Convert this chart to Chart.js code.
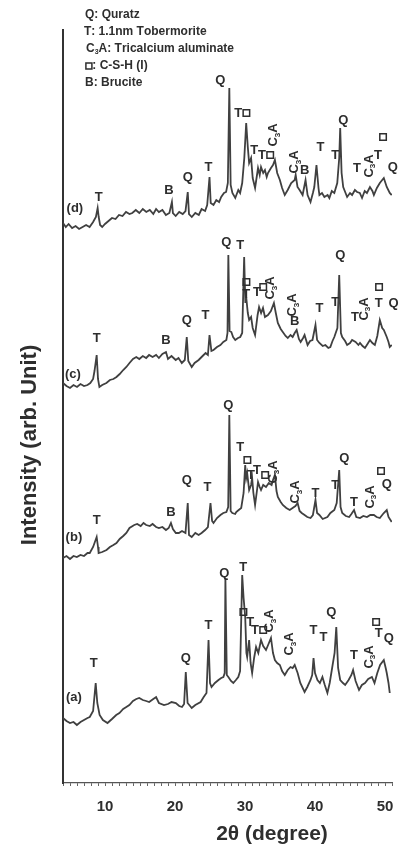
<!DOCTYPE html>
<html lang="en">
<head>
  <meta charset="UTF-8">
  <title>XRD patterns (a)-(d)</title>
  <script src="https://cdn.jsdelivr.net/npm/chart.js"></script>
  <style>
    body { margin: 0; background: #fff; }
    canvas { display: block; }
  </style>
</head>
<body>
  <canvas id="chart" width="404" height="865"></canvas>

  <script>
    // 2θ (degree) and intensity (arb. unit, traces already offset)
    const thetaD = [4.00,4.4,4.8,5.3,5.8,6.3,6.8,7.3,7.8,8.3,8.7,8.95,9.1,9.3,9.6,10.0,10.5,11.0,11.5,12.0,12.5,13.0,13.5,13.9,14.4,14.9,15.4,15.9,16.4,16.9,17.3,17.7,18.2,18.7,19.2,19.56,19.7,20.1,20.6,21.1,21.5,21.82,22.0,22.4,22.9,23.4,23.8,24.3,24.6,24.93,25.1,25.5,25.9,26.3,26.6,27.0,27.3,27.55,27.76,27.95,28.2,28.61,29.04,29.3,29.6,29.9,30.17,30.4,30.59,30.87,31.1,31.44,31.86,32.1,32.29,32.6,32.85,33.1,33.28,33.71,34.0,34.27,34.6,34.98,35.3,35.68,36.1,36.6,37.1,37.24,37.5,37.8,38.23,38.65,38.94,39.36,39.7,39.9,40.21,40.5,40.63,41.0,41.34,41.8,42.05,42.4,42.76,43.18,43.46,43.6,43.8,44.03,44.59,45.0,45.3,45.7,46.01,46.4,46.72,47.1,47.42,47.85,48.2,48.41,48.84,49.26,49.6,49.83,50.25,50.68,50.96];
    const intensityD = [560,556,559,555,557,554,556,558,556,561,566,575,566,558,556,559,562,565,564,568,567,571,569,570,573,570,574,571,573,569,574,571,573,568,570,581,570,567,571,569,572,591,569,566,570,568,574,572,578,606,580,578,583,581,586,590,591,600,695,598,590,585,593,590,600,625,660,636,620,625,605,595,615,608,616,610,613,606,610,615,618,623,610,603,595,588,593,600,603,608,596,593,588,603,588,581,590,596,618,595,588,590,586,588,585,592,590,600,625,655,610,596,586,590,588,593,591,590,585,592,590,596,592,588,595,600,603,605,596,590,588];

    const thetaC = [4.00,4.5,5.0,5.5,6.0,6.5,7.0,7.5,7.9,8.3,8.5,8.81,9.0,9.2,9.6,10.2,10.7,11.2,11.64,12.1,12.6,13.05,13.5,14.0,14.47,14.9,15.4,15.88,16.3,16.8,17.3,17.7,18.2,18.71,19.0,19.5,20.1,20.5,20.97,21.4,21.68,21.9,22.39,22.8,23.38,23.8,24.37,24.7,24.93,25.2,25.5,26.0,26.49,26.9,27.34,27.5,27.62,27.8,28.05,28.3,28.61,29.0,29.32,29.6,29.88,30.05,30.17,30.4,30.59,30.87,31.1,31.44,31.8,32.01,32.3,32.57,32.85,33.28,33.7,34.13,34.4,34.69,35.1,35.40,35.8,36.11,36.5,36.81,37.1,37.38,37.7,37.95,38.3,38.51,38.94,39.3,39.64,40.07,40.3,40.63,41.1,41.48,41.9,42.19,42.5,42.76,43.2,43.46,43.7,43.89,44.3,44.59,45.0,45.3,45.8,46.2,46.43,46.8,47.14,47.5,47.85,48.2,48.55,48.9,49.26,49.6,49.83,50.25,50.5,50.68,50.96];
    const intensityC = [400,397,395,398,396,399,397,398,400,404,412,428,404,396,398,400,403,404,406,409,413,416,420,424,426,424,427,425,428,426,428,425,429,431,424,427,423,425,420,423,446,422,416,420,423,426,430,428,448,432,433,436,438,441,443,450,528,452,451,446,443,445,446,450,526,480,486,470,463,466,455,448,468,476,470,475,466,468,472,480,470,460,454,451,447,445,448,446,450,453,444,441,445,448,438,442,443,458,443,440,437,438,435,436,442,446,455,508,450,446,442,438,440,443,441,438,440,437,435,439,443,440,438,447,463,455,453,446,441,436,438];

    const thetaB = [4.00,4.5,5.0,5.5,5.98,6.5,7.0,7.5,7.82,8.3,8.81,9.0,9.09,9.6,10.22,10.7,11.2,11.64,12.1,12.6,13.05,13.5,14.18,14.6,15.1,15.5,15.88,16.4,16.8,17.30,17.7,18.2,18.71,19.1,19.42,19.7,20.12,20.55,21.0,21.5,21.82,22.0,22.39,22.9,23.38,23.8,24.3,24.7,25.07,25.3,25.5,26.0,26.49,26.9,27.34,27.6,27.76,27.95,28.19,28.6,28.75,29.1,29.46,29.8,30.03,30.17,30.31,30.59,30.87,31.02,31.2,31.44,31.7,31.86,32.1,32.29,32.6,33.00,33.4,33.8,34.0,34.27,34.5,34.69,35.1,35.40,35.9,36.39,36.8,37.2,37.52,37.8,38.1,38.51,38.9,39.36,39.7,40.07,40.3,40.63,41.1,41.77,42.2,42.76,43.1,43.46,43.65,43.89,44.4,44.88,45.2,45.58,45.9,46.43,46.9,47.42,47.9,48.41,48.8,49.26,49.6,49.83,50.25,50.5,50.96];
    const intensityB = [225,227,224,227,226,228,227,230,230,236,246,236,230,231,233,236,238,240,244,247,250,255,258,259,257,260,258,257,259,256,255,256,253,255,260,254,250,250,252,250,280,248,246,250,248,250,253,256,280,262,260,265,268,270,271,276,368,272,270,269,271,273,275,290,318,305,310,293,298,305,290,278,292,301,296,293,298,296,300,298,303,308,292,286,281,278,275,273,275,277,280,272,270,268,266,265,268,283,270,268,264,266,270,273,280,313,276,270,267,266,269,273,266,265,267,266,268,268,266,265,268,270,273,266,261];

    const thetaA = [4.00,4.5,5.0,5.5,5.98,6.5,7.0,7.5,7.82,8.3,8.67,8.9,9.23,9.7,10.36,11.0,11.6,12.06,12.6,13.05,13.48,14.0,14.47,14.89,15.4,15.88,16.31,16.9,17.30,17.7,18.43,19.0,19.5,20.12,20.6,21.0,21.3,21.54,21.8,22.39,22.9,23.66,24.1,24.5,24.79,25.0,25.22,25.7,26.21,26.6,26.91,27.1,27.20,27.4,27.62,28.0,28.33,28.7,29.04,29.3,29.60,29.8,30.03,30.2,30.31,30.59,30.8,31.02,31.3,31.58,31.9,32.29,32.6,33.00,33.3,33.71,34.0,34.27,34.6,34.98,35.3,35.68,36.1,36.5,36.81,37.1,37.52,37.9,38.51,38.9,39.36,39.6,39.79,40.0,40.35,40.7,41.06,41.4,41.77,42.1,42.47,42.8,43.04,43.3,43.60,44.0,44.31,44.8,45.2,45.44,45.8,46.29,46.7,47.14,47.6,48.13,48.5,48.9,49.3,49.83,50.1,50.25,50.5,50.68];
    const intensityA = [65,62,60,61,58,61,63,65,66,72,100,80,68,63,60,64,68,70,74,76,78,82,84,85,83,82,81,84,86,80,78,79,81,80,77,76,79,111,80,75,78,81,86,90,143,100,96,100,103,105,106,110,205,108,106,102,100,103,106,112,208,185,166,130,126,143,120,110,125,136,130,143,137,133,138,145,130,123,120,118,112,108,113,116,115,118,110,100,91,96,103,108,125,110,103,100,106,98,90,100,116,130,156,115,103,100,98,103,108,113,102,93,98,100,104,106,100,110,118,123,115,110,100,90];

    // sample tags and phase labels: [text, 2θ, intensity, rotated]
    const sampleTags = [["(d)",5.70,575],["(c)",5.41,409],["(b)",5.56,246],["(a)",5.56,86]];
    const peakLabels = [
      ["T",9.09,586],["B",19.13,593],["Q",21.82,606],["T",24.79,616],["Q",26.49,703],["T□",29.60,670],
      ["T",31.30,633],["T□",33.0,628],["C3A",34.13,648,true],["C3A",37.10,621,true],["B",38.51,613],
      ["T",40.78,636],["T",42.90,628],["Q",44.03,663],["T",46.01,615],["C3A",47.71,617,true],
      ["T",48.98,628],["□",49.69,646],["Q",51.1,616],

      ["T",8.81,445],["B",18.71,443],["Q",21.68,463],["T",24.37,468],["Q",27.34,541],["T",29.32,538],
      ["□",30.17,501],["T",30.17,489],["T",31.72,491],["□",32.57,496],["C3A",33.70,495,true],
      ["C3A",36.81,478,true],["B",37.10,462],["T",40.63,475],["T",42.90,481],["Q",43.60,528],
      ["T",45.72,466],["C3A",47.0,474,true],["□",49.12,496],["T",49.12,480],["Q",51.24,480],

      ["T",8.81,263],["B",19.42,271],["Q",21.68,303],["T",24.65,296],["Q",27.62,378],["T",29.32,336],
      ["□",30.31,323],["T",30.87,308],["T",31.72,313],["□",32.85,308],["C3A",33.99,311,true],
      ["C3A",37.24,291,true],["T",40.07,290],["T",42.90,298],["Q",44.17,325],["T",45.58,281],
      ["C3A",47.85,286,true],["□",49.40,312],["Q",50.25,299],

      ["T",8.38,120],["Q",21.54,125],["T",24.79,158],["Q",27.06,210],["T",29.74,216],["□",29.74,171],
      ["T",30.73,161],["T□",32.0,153],["C3A",33.56,162,true],["C3A",36.39,139,true],["T",39.79,153],
      ["T",41.2,146],["Q",42.33,171],["T",45.58,128],["C3A",47.71,126,true],["□",48.70,161],
      ["T",49.12,150],["Q",50.54,145]
    ];
    const legendLines = ["Q: Quratz", "T: 1.1nm Tobermorite", "C3A: Tricalcium aluminate", "□: C-S-H (I)", "B: Brucite"];

    const INK = "#2e2e2e";
    const FONT = '"Liberation Sans", Arial, sans-serif';

    function pairs(xs, ys) { return xs.map((v, i) => ({ x: v, y: ys[i] })); }

    // draws text with C3A subscript and □ as a small box, centred on (0,0)
    function drawRich(ctx, text, size) {
      const parts = [];
      for (let i = 0; i < text.length; i++) {
        const ch = text[i];
        if (ch === "□") parts.push({ box: true, w: size * 0.62 });
        else if (ch === "3" && text[i - 1] === "C") {
          ctx.font = "bold " + Math.round(size * 0.62) + "px " + FONT;
          parts.push({ ch, sub: true, w: ctx.measureText(ch).width });
        } else {
          ctx.font = "bold " + size + "px " + FONT;
          parts.push({ ch, w: ctx.measureText(ch).width });
        }
      }
      const total = parts.reduce((a, p) => a + p.w, 0);
      let cx = -total / 2;
      parts.forEach(p => {
        if (p.box) {
          const s = size * 0.5;
          ctx.lineWidth = 1.5;
          ctx.strokeRect(cx + 1, -s / 2, s, s);
        } else if (p.sub) {
          ctx.font = "bold " + Math.round(size * 0.62) + "px " + FONT;
          ctx.fillText(p.ch, cx, size * 0.28);
        } else {
          ctx.font = "bold " + size + "px " + FONT;
          ctx.fillText(p.ch, cx, 0);
        }
        cx += p.w;
      });
      return total;
    }

    const textPlugin = {
      id: "texts",
      afterDraw(chart) {
        const { ctx, scales: { x, y } } = chart;
        ctx.save();
        ctx.fillStyle = INK;
        ctx.strokeStyle = INK;
        ctx.textBaseline = "middle";
        ctx.textAlign = "left";

        peakLabels.forEach(([t, th, v, rot]) => {
          ctx.save();
          ctx.translate(x.getPixelForValue(th), y.getPixelForValue(v));
          if (rot) ctx.rotate(-Math.PI / 2);
          drawRich(ctx, t, 13);
          ctx.restore();
        });

        sampleTags.forEach(([t, th, v]) => {
          ctx.save();
          ctx.translate(x.getPixelForValue(th), y.getPixelForValue(v));
          drawRich(ctx, t, 13);
          ctx.restore();
        });

        legendLines.forEach((line, i) => {
          ctx.save();
          ctx.font = "bold 12px " + FONT;
          const w = ctx.measureText(line).width;
          ctx.translate(85 + w / 2, 15 + i * 17);
          drawRich(ctx, line, 12);
          ctx.restore();
        });

        ctx.textAlign = "center";
        ctx.font = "bold 21px " + FONT;
        ctx.fillText("2θ (degree)", 272, 834);
        ctx.font = "bold 22px " + FONT;
        ctx.translate(30, 445);
        ctx.rotate(-Math.PI / 2);
        ctx.fillText("Intensity (arb. Unit)", 0, 0);
        ctx.restore();
      }
    };

    const traceStyle = { borderColor: "#404040", borderWidth: 1.8, pointRadius: 0, tension: 0, fill: false };

    new Chart(document.getElementById("chart").getContext("2d"), {
      type: "line",
      data: {
        datasets: [
          { label: "(a)", data: pairs(thetaA, intensityA), ...traceStyle },
          { label: "(b)", data: pairs(thetaB, intensityB), ...traceStyle },
          { label: "(c)", data: pairs(thetaC, intensityC), ...traceStyle },
          { label: "(d)", data: pairs(thetaD, intensityD), ...traceStyle }
        ]
      },
      options: {
        responsive: false,
        animation: false,
        devicePixelRatio: 1,
        layout: { padding: { left: 63, right: 9, top: 30, bottom: 52 } },
        plugins: { legend: { display: false }, tooltip: { enabled: false } },
        scales: {
          x: {
            type: "linear", min: 4, max: 51,
            afterFit: s => { s.height = 30; },
            grid: { display: true, drawOnChartArea: false, drawTicks: true, tickLength: 3, color: "#666" },
            border: { display: true, color: "#555", width: 1.2 },
            ticks: {
              stepSize: 1, autoSkip: false, maxRotation: 0, padding: 12,
              color: INK, font: { family: FONT, size: 15, weight: "bold" },
              callback: v => (v % 10 === 0 ? v : "")
            }
          },
          y: {
            min: 0, max: 753,
            afterFit: s => { s.width = 0; },
            grid: { display: false },
            border: { display: true, color: "#333", width: 2 },
            ticks: { display: false }
          }
        }
      },
      plugins: [textPlugin]
    });
  </script>
</body>
</html>
